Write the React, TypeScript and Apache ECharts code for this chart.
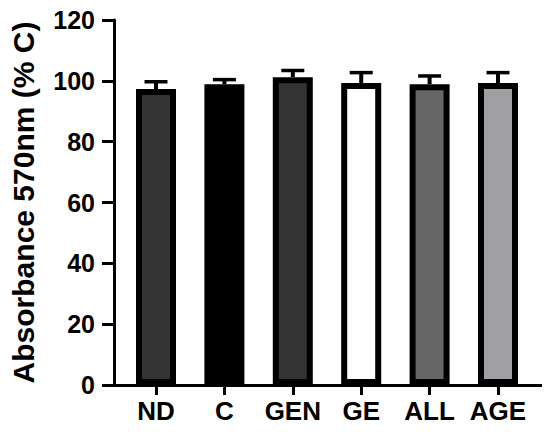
import React, { useEffect, useRef } from "react";
import * as echarts from "echarts";

const categories = ["ND", "C", "GEN", "GE", "ALL", "AGE"];
const means = [97.3, 98.9, 101.2, 99.3, 98.9, 99.3];
const errors = [2.4, 1.5, 2.2, 3.4, 2.7, 3.4];
const fills = ["#333333", "#000000", "#333333", "#ffffff", "#666666", "#a0a0a4"];
const yTicks = { min: 0, max: 120, interval: 20 };
const yName = "Absorbance 570nm (% C)";

const FONT = "'Liberation Sans', Arial, Helvetica, sans-serif";

export default function App() {
  const ref = useRef<HTMLDivElement>(null);
  useEffect(() => {
    if (!ref.current) return;
    const chart = echarts.init(ref.current, null, { renderer: "svg" });
    const option: any = {
      animation: false,
      backgroundColor: "#ffffff",
      grid: [
        { left: 111, right: 5, top: 20, bottom: 47 },
        { left: 121.8, right: 17.8, top: 20, bottom: 47 },
      ],
      xAxis: [
        {
          gridIndex: 0,
          type: "value",
          min: 0,
          max: 1,
          axisLine: { show: true, lineStyle: { color: "#000", width: 3 } },
          axisTick: { show: false },
          axisLabel: { show: false },
          splitLine: { show: false },
        },
        {
          gridIndex: 1,
          type: "category",
          data: categories,
          axisLine: { show: false },
          axisTick: {
            show: true,
            alignWithLabel: true,
            length: 10,
            lineStyle: { color: "#000", width: 3 },
          },
          axisLabel: {
            interval: 0,
            color: "#000",
            fontFamily: FONT,
            fontWeight: "bold",
            fontSize: 26,
            margin: 13,
          },
          splitLine: { show: false },
        },
      ],
      yAxis: [
        {
          gridIndex: 0,
          type: "value",
          min: yTicks.min,
          max: yTicks.max,
          interval: yTicks.interval,
          name: yName,
          nameLocation: "middle",
          nameGap: 76,
          nameTextStyle: {
            color: "#000",
            fontFamily: FONT,
            fontWeight: "bold",
            fontSize: 30,
          },
          axisLine: { show: true, lineStyle: { color: "#000", width: 3 } },
          axisTick: { show: true, length: 12, lineStyle: { color: "#000", width: 3 } },
          axisLabel: {
            color: "#000",
            fontFamily: FONT,
            fontWeight: "bold",
            fontSize: 25,
            margin: 19,
          },
          splitLine: { show: false },
        },
        {
          gridIndex: 1,
          type: "value",
          min: yTicks.min,
          max: yTicks.max,
          interval: yTicks.interval,
          show: false,
          splitLine: { show: false },
        },
      ],
      series: [
        {
          type: "bar",
          xAxisIndex: 1,
          yAxisIndex: 1,
          barWidth: 40,
          data: means.map((v, i) => ({
            value: v,
            itemStyle: { color: fills[i], borderColor: "#000", borderWidth: 6 },
          })),
          z: 2,
        },
        {
          type: "custom",
          xAxisIndex: 1,
          yAxisIndex: 1,
          z: 3,
          data: means.map((v, i) => [i, v, v + errors[i]]),
          renderItem: (params: any, api: any) => {
            const x = api.value(0);
            const base = api.coord([x, api.value(1)]);
            const top = api.coord([x, api.value(2)]);
            const half = 11.5;
            return {
              type: "group",
              children: [
                {
                  type: "line",
                  shape: { x1: base[0], y1: base[1], x2: top[0], y2: top[1] },
                  style: { stroke: "#000", lineWidth: 4 },
                },
                {
                  type: "line",
                  shape: { x1: top[0] - half, y1: top[1], x2: top[0] + half, y2: top[1] },
                  style: { stroke: "#000", lineWidth: 3.5 },
                },
              ],
            };
          },
        },
      ],
    };
    chart.setOption(option);
    return () => chart.dispose();
  }, []);
  return <div ref={ref} style={{ width: 550, height: 432, margin: -8 }} />;
}
